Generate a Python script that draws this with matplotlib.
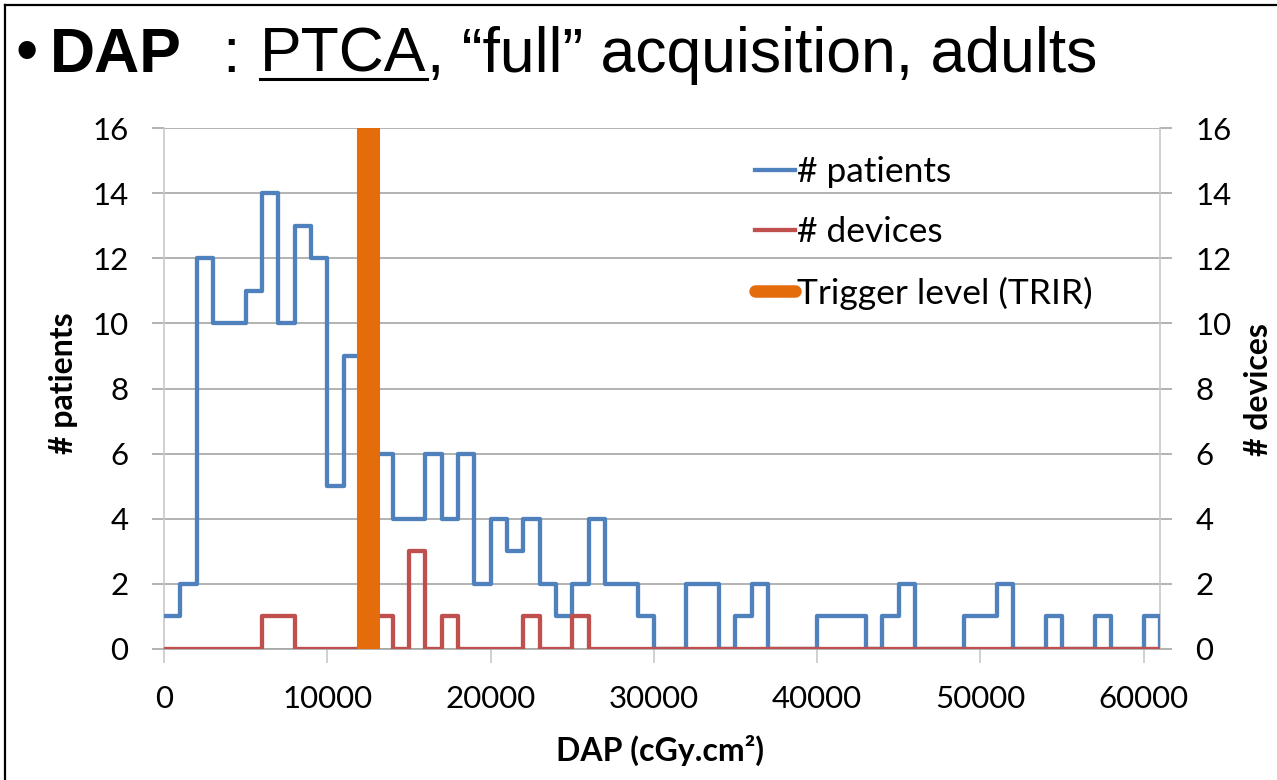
import numpy as np
import matplotlib
matplotlib.use('Agg')
from matplotlib import pyplot as plt
from matplotlib.lines import Line2D

W, H = 1277, 780

# histogram counts per 1000 cGy.cm2 bin, bins 0-1000 ... 60000-61000
bin_width = 1000
patients = [1, 2, 12, 10, 10, 11, 14, 10, 13, 12,
            5, 9, 6, 6, 4, 4, 6, 4, 6, 2,
            4, 3, 4, 2, 1, 2, 4, 2, 2, 1,
            0, 0, 2, 2, 0, 1, 2, 0, 0, 0,
            1, 1, 1, 0, 1, 2, 0, 0, 0, 1,
            1, 2, 0, 0, 1, 0, 0, 1, 0, 0,
            1]
devices = [0, 0, 0, 0, 0, 0, 1, 1, 0, 0,
           0, 0, 0, 1, 0, 3, 0, 1, 0, 0,
           0, 0, 1, 0, 0, 1, 0, 0, 0, 0,
           0, 0, 0, 0, 0, 0, 0, 0, 0, 0,
           0, 0, 0, 0, 0, 0, 0, 0, 0, 0,
           0, 0, 0, 0, 0, 0, 0, 0, 0, 0,
           0]
trigger = 12500
x_ticks = [0, 10000, 20000, 30000, 40000, 50000, 60000]
y_ticks = [0, 2, 4, 6, 8, 10, 12, 14, 16]
labels = ['# patients', '# devices', 'Trigger level (TRIR)']

BLUE = '#4F81BD'
RED = '#C0504D'
ORANGE = '#E46C0A'
GRID = '#a6a6a6'

plt.rcParams['font.family'] = ['Lato', 'DejaVu Sans']

fig = plt.figure(figsize=(W / 100, H / 100), dpi=100)
ax = fig.add_axes([164 / W, 1 - 649 / H, (1160 - 164) / W, (649 - 128) / H])

edges = np.arange(len(patients) + 1) * bin_width
ax.step(edges, list(patients) + [0], where='post', color=BLUE, lw=3.1, zorder=3)
ax.step(edges, list(devices) + [0], where='post', color=RED, lw=3.1, zorder=4)
ax.axvline(trigger, color=ORANGE, lw=16.6, zorder=5)

ax.set_xlim(0, edges[-1])
ax.set_ylim(0, 16)
ax.set_xticks(x_ticks)
ax.set_yticks(y_ticks)

ax.yaxis.grid(True, color=GRID, lw=1.2)
ax.set_axisbelow(True)
ax.spines['top'].set_visible(False)
ax.spines['left'].set_color('#c8c8c8')
ax.spines['right'].set_color('#c8c8c8')
ax.spines['bottom'].set_color(GRID)
for s in ax.spines.values():
    s.set_linewidth(1.2)

ax.tick_params(axis='y', left=True, right=True, labelleft=True, labelright=True,
               length=8.6, width=1.2, color=GRID, pad=17, labelsize=22.5)
ax.tick_params(axis='x', direction='out', length=10, width=1.2, color='#c8c8c8',
               pad=16, labelsize=22.5)

fig.text(63 / W, 1 - 383 / H, '# patients', rotation=90, ha='center', va='center',
         fontsize=23, fontweight='bold')
fig.text(1259 / W, 1 - 390 / H, '# devices', rotation=90, ha='center', va='center',
         fontsize=23, fontweight='bold')
fig.text(660 / W, 1 - 750 / H, 'DAP (cGy.cm\u00b2)', ha='center', va='center',
         fontsize=23, fontweight='bold')

handles = [Line2D([], [], color=BLUE, lw=3.1),
           Line2D([], [], color=RED, lw=3.1),
           Line2D([], [], color=ORANGE, lw=9, solid_capstyle='round')]
ax.legend(handles, labels, loc='upper left', bbox_to_anchor=(755 / W, 1 - 156 / H),
          bbox_transform=fig.transFigure, frameon=False, fontsize=25.5,
          handlelength=1.13, handletextpad=0.05, labelspacing=0.8,
          borderpad=0, borderaxespad=0)

# title, built from pieces so DAP is bold and PTCA underlined
renderer = fig.canvas.get_renderer()
tfont = dict(family=['Liberation Sans', 'DejaVu Sans'], size=45, va='baseline')
y_base = 1 - 72 / H
fig.text(27 / W, y_base, '\u2022', ha='center', va='baseline',
         family=['Liberation Sans', 'DejaVu Sans'], size=46)
fig.text(50 / W, y_base, 'DAP', fontweight='bold', **tfont)
fig.text(222 / W, y_base, ':', **tfont)
ptca = fig.text(260 / W, y_base, 'PTCA', **tfont)
bb = ptca.get_window_extent(renderer)
fig.text(bb.x1 / W, y_base, ', \u201cfull\u201d acquisition, adults', **tfont)
fig.add_artist(Line2D([bb.x0 / W, bb.x1 / W], [1 - 79 / H, 1 - 79 / H],
                      color='black', lw=2.2))

# slide frame
fig.add_artist(Line2D([5 / W, 5 / W], [0, 1 - 5 / H], color='black', lw=1.6))
fig.add_artist(Line2D([5 / W, 1], [1 - 5 / H, 1 - 5 / H], color='black', lw=1.6))

fig.savefig('out.png', dpi=100)
